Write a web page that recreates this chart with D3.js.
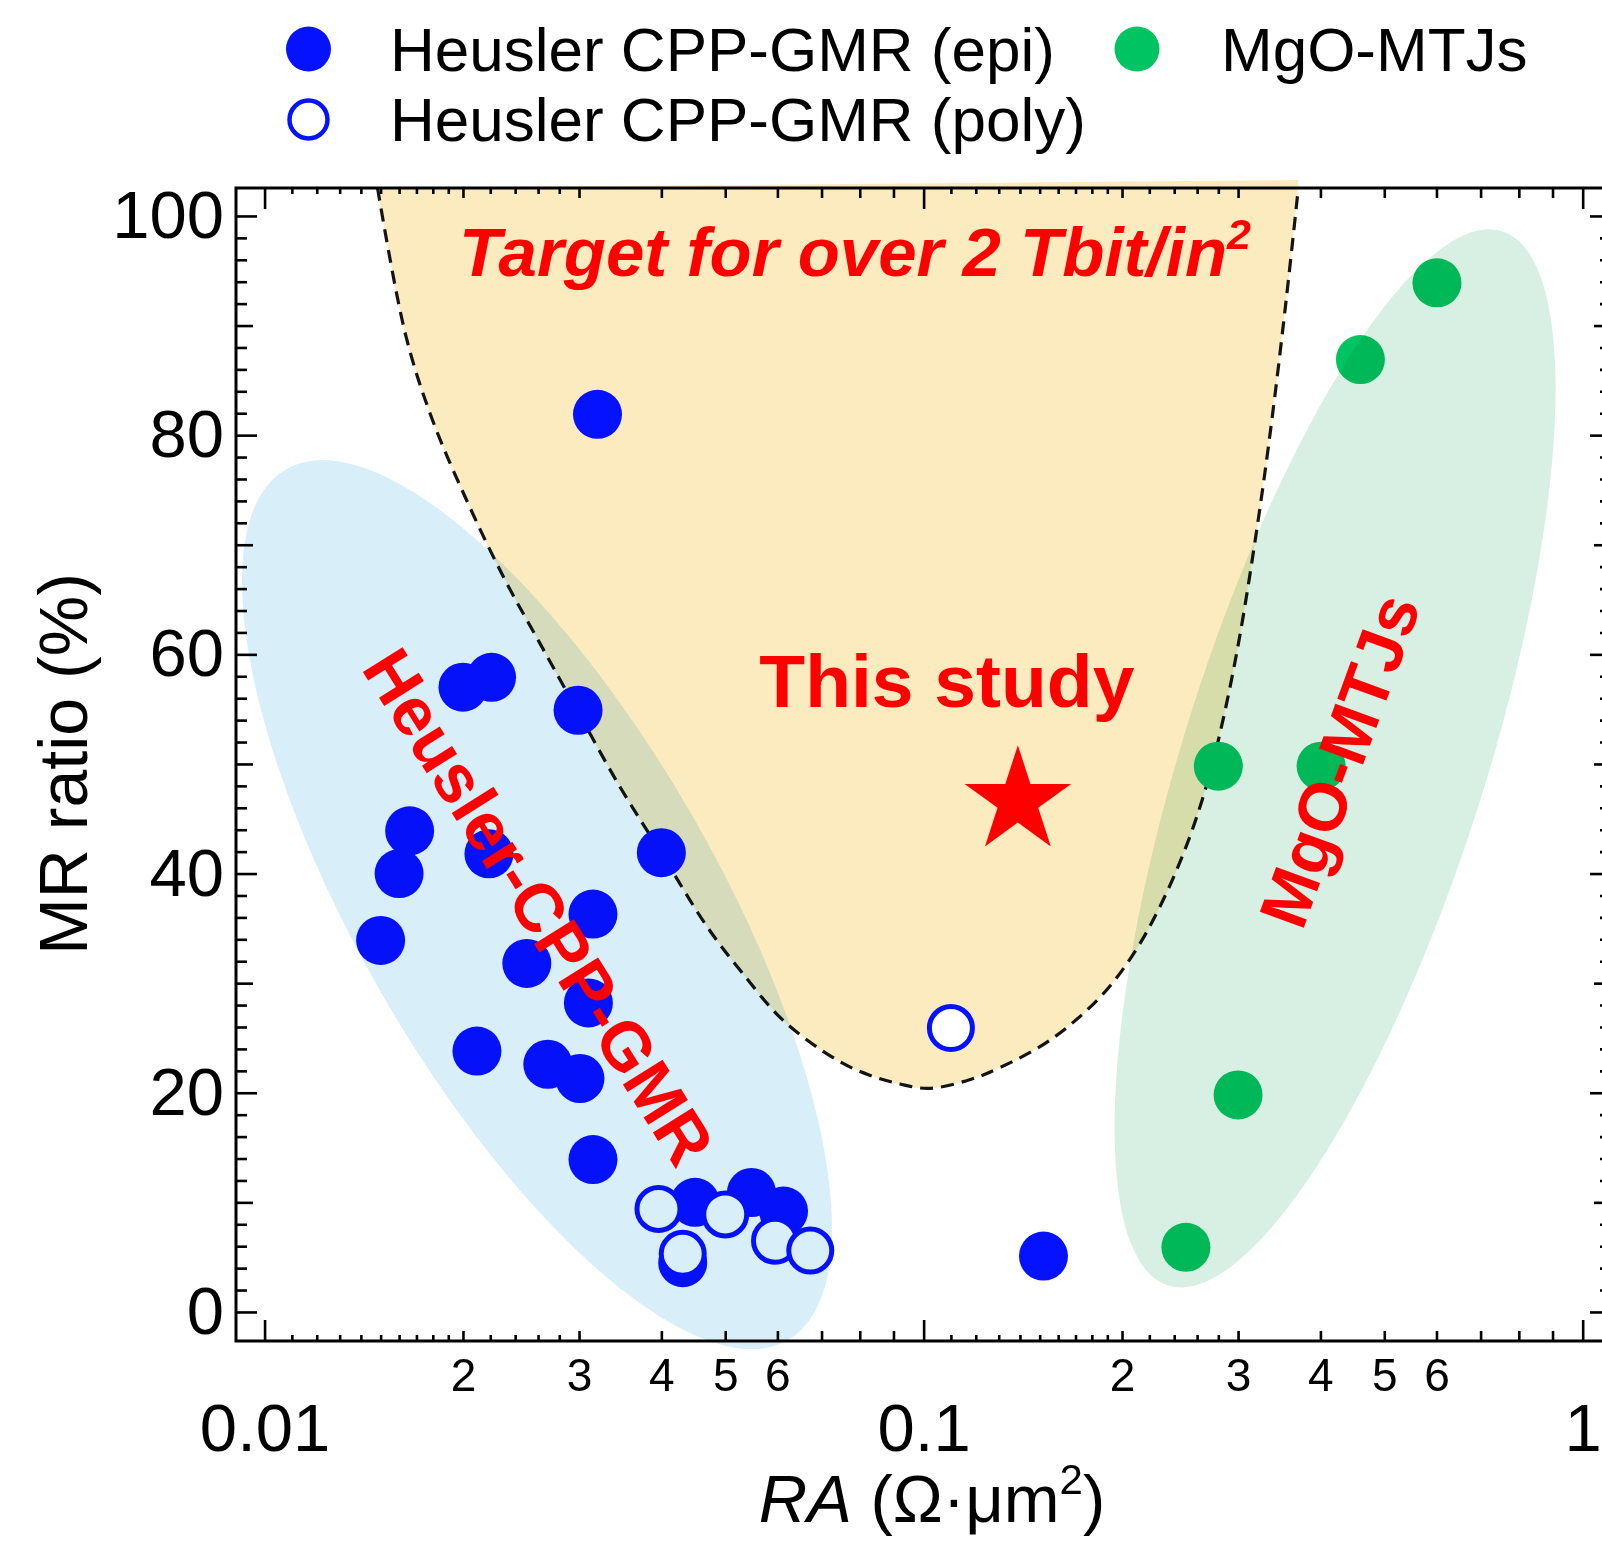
<!DOCTYPE html>
<html>
<head>
<meta charset="utf-8">
<script src="https://cdn.jsdelivr.net/npm/d3@7"></script>
<style>
  html, body { margin: 0; padding: 0; background: #fff; }
  svg { display: block; font-family: "Liberation Sans", Arial, Helvetica, sans-serif; }
</style>
</head>
<body>
<svg id="chart" width="1602" height="1545"></svg>
<script>
// ---- data: RA (Ω·μm²) and MR ratio (%) ----
const epiRA = [0.0320, 0.0200, 0.0221, 0.0299, 0.0166, 0.0160, 0.0219, 0.0400, 0.0150, 0.0315,
               0.0250, 0.0310, 0.0210, 0.0269, 0.0301, 0.0315, 0.0450, 0.0548, 0.0613, 0.0431, 0.152];
const epiMR = [81.9, 57.0, 57.9, 54.9, 43.9, 40.0, 41.8, 41.9, 33.9, 36.3,
               31.8, 28.2, 23.8, 22.6, 21.3, 13.9, 10.0, 10.9, 9.2, 4.5, 5.1];

const polyRA = [0.0396, 0.0500, 0.0595, 0.0673, 0.0431, 0.110];
const polyMR = [9.4, 8.9, 6.5, 5.6, 5.3, 25.9];

const mtjRA = [0.601, 0.460, 0.280, 0.401, 0.300, 0.250];
const mtjMR = [93.9, 86.9, 49.8, 49.8, 19.8, 5.9];

const studyRA = [0.139];
const studyMR = [46.6];

// boundary of the 2 Tbit/in² target window
const targetRA = [0.01484, 0.01636, 0.01795, 0.02035, 0.02316, 0.02617, 0.02992, 0.03462, 0.03996,
                  0.04687, 0.05264, 0.06124, 0.07381, 0.08279, 0.09207, 0.1015, 0.1162,
                  0.1306, 0.1555, 0.1851, 0.2078, 0.2284, 0.2507, 0.2689, 0.2826, 0.3004, 0.3212,
                  0.3376, 0.3550, 0.3703];
const targetMR = [102.55, 89.2, 81.5, 73.8, 66.8, 61.0, 54.7, 47.9, 41.9,
                  35.2, 31.2, 26.6, 23.0, 21.6, 20.8, 20.4, 21.1,
                  22.3, 24.8, 28.7, 32.6, 37.0, 42.6, 48.1, 53.2, 61.0, 71.9,
                  81.4, 92.4, 102.55];

// group outlines: the two ends of each long axis
const heuslerAxisRA = [0.01078, 0.06224];
const heuslerAxisMR = [76.9, -2.56];
const mtjAxisRA = [0.7546, 0.2349];
const mtjAxisMR = [98.6, 2.41];

// ticks
const xMajor = [0.01, 0.1, 1];
const xMid = [0.02, 0.03, 0.04, 0.05, 0.06, 0.07, 0.08, 0.09, 0.2, 0.3, 0.4, 0.5, 0.6, 0.7, 0.8, 0.9];
const xMidLabeled = [0.02, 0.03, 0.04, 0.05, 0.06, 0.2, 0.3, 0.4, 0.5, 0.6];
const xMinor = [0.011, 0.012, 0.013, 0.014, 0.015, 0.016, 0.017, 0.018, 0.019, 0.022, 0.024, 0.026, 0.028,
                0.11, 0.12, 0.13, 0.14, 0.15, 0.16, 0.17, 0.18, 0.19, 0.22, 0.24, 0.26, 0.28];
const yMajor = [0, 20, 40, 60, 80, 100];
const yMid = [10, 30, 50, 70, 90];
const yMinor = [2, 4, 6, 8, 12, 14, 16, 18, 22, 24, 26, 28, 32, 34, 36, 38, 42, 44, 46, 48,
                52, 54, 56, 58, 62, 64, 66, 68, 72, 74, 76, 78, 82, 84, 86, 88, 92, 94, 96, 98];

// ---- layout ----
const L = 236, R = 1611, T = 188, B = 1341;
const BLUE = "#0512ff", GREEN = "#00c462", RED = "#ff0000";

const svg = d3.select("#chart");
const x = d3.scaleLog().domain([0.00905, 1.104]).range([L, R]);
const y = d3.scaleLinear().domain([-2.65, 102.55]).range([B, T]);

const zip = (a, b) => a.map((v, i) => [v, b[i]]);

// target window fill and dashed boundary
const tline = d3.line().x(d => x(d[0])).y(d => y(d[1])).curve(d3.curveCatmullRom.alpha(0.5));
const tpts = zip(targetRA, targetMR);
const first = tpts[0], last = tpts[tpts.length - 1];
svg.append("path")
  .attr("d", tline(tpts) + `L${x(last[0])},${y(last[1]) - 8}L${x(first[0])},${y(first[1])}Z`)
  .attr("fill", "#fdebc0");
svg.append("path")
  .attr("d", tline(tpts))
  .attr("fill", "none")
  .attr("stroke", "#141414")
  .attr("stroke-width", 3.2)
  .attr("stroke-dasharray", "13,8");

// data markers
const pts = svg.append("g");
pts.selectAll(".mtj").data(zip(mtjRA, mtjMR)).join("circle")
  .attr("cx", d => x(d[0])).attr("cy", d => y(d[1])).attr("r", 24.5).attr("fill", GREEN);
pts.selectAll(".epi").data(zip(epiRA, epiMR)).join("circle")
  .attr("cx", d => x(d[0])).attr("cy", d => y(d[1])).attr("r", 24.5).attr("fill", BLUE);
pts.selectAll(".poly").data(zip(polyRA, polyMR)).join("circle")
  .attr("cx", d => x(d[0])).attr("cy", d => y(d[1])).attr("r", 21.5)
  .attr("fill", "#fff").attr("stroke", BLUE).attr("stroke-width", 5);

// translucent group outlines
function outline(ra, mr, halfWidth, color) {
  const x1 = x(ra[0]), y1 = y(mr[0]), x2 = x(ra[1]), y2 = y(mr[1]);
  const cx = (x1 + x2) / 2, cy = (y1 + y2) / 2;
  const a = Math.hypot(x2 - x1, y2 - y1) / 2;
  const ang = Math.atan2(y2 - y1, x2 - x1) * 180 / Math.PI;
  svg.append("ellipse")
    .attr("cx", cx).attr("cy", cy).attr("rx", a).attr("ry", halfWidth)
    .attr("transform", `rotate(${ang},${cx},${cy})`)
    .attr("fill", color)
    .style("mix-blend-mode", "multiply");
  return [cx, cy];
}
const hc = outline(heuslerAxisRA, heuslerAxisMR, 179, "#d8eff9");
const mc = outline(mtjAxisRA, mtjAxisMR, 151, "#d8f0e3");

// this study: star
function starPath(cx, cy, ro, ri) {
  let p = "";
  for (let k = 0; k < 10; k++) {
    const r = k % 2 ? ri : ro;
    const a = -Math.PI / 2 + k * Math.PI / 5;
    p += (k ? "L" : "M") + (cx + r * Math.cos(a)) + "," + (cy + r * Math.sin(a));
  }
  return p + "Z";
}
svg.selectAll(".star").data(zip(studyRA, studyMR)).join("path")
  .attr("d", d => starPath(x(d[0]), y(d[1]), 56, 56 * 0.382))
  .attr("fill", RED);

// annotations
svg.append("text")
  .attr("x", 855).attr("y", 276)
  .attr("text-anchor", "middle")
  .attr("font-size", 69).attr("font-weight", "bold").attr("font-style", "italic")
  .attr("fill", RED)
  .call(t => {
    t.append("tspan").text("Target for over 2 Tbit/in");
    t.append("tspan").attr("font-size", 43).attr("dy", -27).text("2");
  });

svg.append("text")
  .attr("x", x(studyRA[0]) - 71).attr("y", y(studyMR[0]) - 94)
  .attr("text-anchor", "middle")
  .attr("font-size", 75).attr("font-weight", "bold")
  .attr("fill", RED)
  .text("This study");

svg.append("text")
  .attr("transform", `translate(${hc[0] + 2},${hc[1] + 2}) rotate(57.8)`)
  .attr("text-anchor", "middle").attr("dominant-baseline", "central")
  .attr("font-size", 68).attr("font-weight", "bold")
  .attr("fill", RED)
  .text("Heusler-CPP-GMR");

svg.append("text")
  .attr("transform", `translate(${mc[0] + 4},${mc[1] + 2}) rotate(-70)`)
  .attr("text-anchor", "middle").attr("dominant-baseline", "central")
  .attr("font-size", 68).attr("font-weight", "bold")
  .attr("fill", RED)
  .text("MgO-MTJs");

// ---- axes ----
function addAxis(gen, pos, values, len, fmt, pad, size) {
  const g = svg.append("g")
    .attr("transform", pos)
    .call(gen.tickValues(values).tickSize(-len).tickPadding(pad || 0).tickFormat(fmt || (() => "")));
  g.select(".domain").remove();
  g.selectAll(".tick line").attr("stroke", "#000").attr("stroke-width", 2.6);
  g.selectAll(".tick text").attr("fill", "#000").attr("font-size", size || 0)
    .style("font-family", '"Liberation Sans", Arial, sans-serif');
  return g;
}
const fmtMajor = d => (d >= 1 ? "1" : d === 0.1 ? "0.1" : "0.01");
const fmtMid = d => (xMidLabeled.includes(d) ? String(Math.round(d / Math.pow(10, Math.floor(Math.log10(d) + 1e-9)))) : "");

addAxis(d3.axisBottom(x), `translate(0,${B})`, xMinor, 6);
addAxis(d3.axisBottom(x), `translate(0,${B})`, xMid, 10, fmtMid, 17, 46);
addAxis(d3.axisBottom(x), `translate(0,${B})`, xMajor, 21, fmtMajor, 62, 67);
addAxis(d3.axisTop(x), `translate(0,${T})`, xMinor, 6);
addAxis(d3.axisTop(x), `translate(0,${T})`, xMid, 10);
addAxis(d3.axisTop(x), `translate(0,${T})`, xMajor, 21);

addAxis(d3.axisLeft(y), `translate(${L},0)`, yMinor, 11);
addAxis(d3.axisLeft(y), `translate(${L},0)`, yMid, 17);
addAxis(d3.axisLeft(y), `translate(${L},0)`, yMajor, 21, d => String(d), 12, 67);
addAxis(d3.axisRight(y), `translate(${R},0)`, yMinor, 11);
addAxis(d3.axisRight(y), `translate(${R},0)`, yMid, 17);
addAxis(d3.axisRight(y), `translate(${R},0)`, yMajor, 21);

svg.append("rect")
  .attr("x", L).attr("y", T).attr("width", R - L).attr("height", B - T)
  .attr("fill", "none").attr("stroke", "#000").attr("stroke-width", 3);

// axis titles
svg.append("text")
  .attr("x", 932).attr("y", 1522)
  .attr("text-anchor", "middle").attr("font-size", 67).attr("fill", "#000")
  .call(t => {
    t.append("tspan").attr("font-style", "italic").text("RA");
    t.append("tspan").text(" (Ω·μm");
    t.append("tspan").attr("font-size", 42).attr("dy", -28).text("2");
    t.append("tspan").attr("dy", 28).text(")");
  });
svg.append("text")
  .attr("transform", "translate(87,764) rotate(-90)")
  .attr("text-anchor", "middle").attr("font-size", 68).attr("fill", "#000")
  .text("MR ratio (%)");

// ---- legend ----
const lg = svg.append("g");
lg.append("circle").attr("cx", 308.5).attr("cy", 49).attr("r", 22.5).attr("fill", BLUE);
lg.append("circle").attr("cx", 308.5).attr("cy", 119.5).attr("r", 19)
  .attr("fill", "#fff").attr("stroke", BLUE).attr("stroke-width", 4.5);
lg.append("circle").attr("cx", 1137).attr("cy", 49).attr("r", 22.5).attr("fill", GREEN);
const lt = [["Heusler CPP-GMR (epi)", 390, 71], ["Heusler CPP-GMR (poly)", 390, 141], ["MgO-MTJs", 1221, 71]];
lg.selectAll("text").data(lt).join("text")
  .attr("x", d => d[1]).attr("y", d => d[2])
  .attr("font-size", 62).attr("fill", "#000")
  .text(d => d[0]);
</script>
</body>
</html>
